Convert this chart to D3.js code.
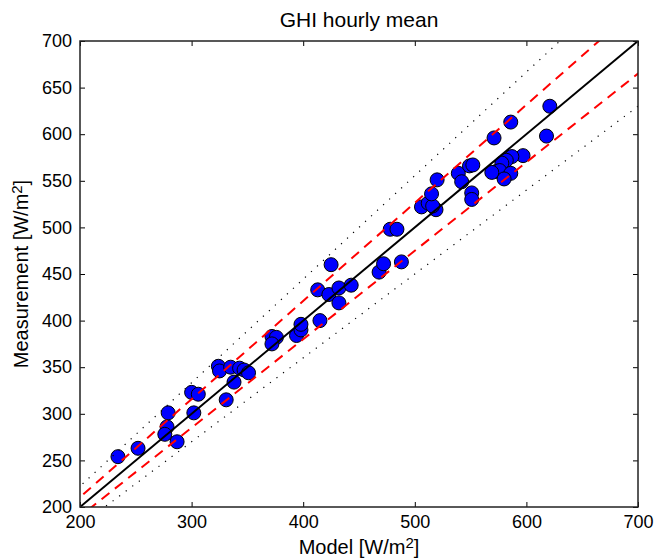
<!DOCTYPE html>
<html>
<head>
<meta charset="utf-8">
<script src="https://cdn.jsdelivr.net/npm/d3@7"></script>
<style>
    body { margin: 0; background: #fff; }
    svg { display: block; font-family: "Liberation Sans", Arial, sans-serif; }
</style>
</head>
<body>
<svg id="drawing_region"></svg>
<script>
const model_values = [
    234, 252, 279, 278, 276, 287, 300, 306, 302, 331, 338,
    324, 325, 335, 343, 347, 351,
    372, 376, 372, 394, 398, 398, 415, 413, 423, 432, 443, 432, 425,
    468, 472, 488, 478, 484, 506, 512, 519, 516, 515, 520,
    539, 542, 549, 551, 551, 552,
    571, 586, 621, 618, 597, 587, 582, 578, 573, 576, 586, 580, 569
];
const measured_values = [
    254, 263, 301, 286, 278, 270, 323, 321, 301, 315, 334,
    351, 346, 350, 349, 347, 344,
    383, 382, 375, 384, 390, 396, 400, 433, 428, 435, 438, 419, 460,
    452, 461, 463, 498, 498, 522, 526, 519, 523, 536, 551,
    558, 549, 566, 537, 530, 567,
    596, 613, 630, 598, 577, 576, 572, 569, 560, 561, 558, 552, 559
];

const x_ticks = [200, 300, 400, 500, 600, 700];
const y_ticks = [200, 250, 300, 350, 400, 450, 500, 550, 600, 650, 700];

// reference lines y = k * x
const line_ratios = [1 / 0.9, 0.9, 1 / 0.95, 0.95, 1];
const line_kinds  = ['dot', 'dot', 'dash', 'dash', 'solid'];

const data = model_values.map((d, i) => ({ model: d, measured: measured_values[i] }));

var config = {
    parent: '#drawing_region',
    width: 655,
    height: 558,
    margin: {top: 41, right: 17, bottom: 51, left: 80},
    title: 'GHI hourly mean',
};

class ScatterPlot {

    constructor( config, data ) {
        this.config = config;
        this.data = data;
        this.init();
    }

    init() {
        let self = this;

        self.svg = d3.select( self.config.parent )
            .attr('width', self.config.width)
            .attr('height', self.config.height);

        self.inner_width = self.config.width - self.config.margin.left - self.config.margin.right;
        self.inner_height = self.config.height - self.config.margin.top - self.config.margin.bottom;

        self.chart = self.svg.append('g')
            .attr('transform', `translate(${self.config.margin.left}, ${self.config.margin.top})`);

        self.xscale = d3.scaleLinear()
            .domain([200, 700])
            .range([0, self.inner_width]);

        self.yscale = d3.scaleLinear()
            .domain([200, 700])
            .range([self.inner_height, 0]);

        self.svg.append('defs').append('clipPath')
            .attr('id', 'plot_clip')
            .append('rect')
            .attr('width', self.inner_width)
            .attr('height', self.inner_height);

        self.points_group = self.chart.append('g')
            .attr('clip-path', 'url(#plot_clip)');
        self.lines_group = self.chart.append('g')
            .attr('clip-path', 'url(#plot_clip)');

        self.svg.append('text')
            .attr('x', self.config.margin.left + self.inner_width / 2)
            .attr('y', 27)
            .attr('text-anchor', 'middle')
            .style('font-size', '21px')
            .text(self.config.title);
    }

    update() {
        let self = this;
        self.render();
    }

    render() {
        let self = this;

        self.points_group.selectAll('circle')
            .data(self.data)
            .join('circle')
            .attr('cx', d => self.xscale(d.model))
            .attr('cy', d => self.yscale(d.measured))
            .attr('r', 7)
            .attr('fill', '#0000ff')
            .attr('stroke', '#000')
            .attr('stroke-width', 1);

        const styles = {
            solid: {color: '#000', width: 2, dash: null},
            dash:  {color: '#ff0000', width: 2, dash: '10,7'},
            dot:   {color: '#000', width: 1.2, dash: '1.2,7'},
        };
        const line = d3.line()
            .x(d => self.xscale(d[0]))
            .y(d => self.yscale(d[1]));

        self.lines_group.selectAll('path')
            .data(line_ratios.map((k, i) => ({k: k, kind: line_kinds[i]})))
            .join('path')
            .attr('d', d => line([[100, 100 * d.k], [800, 800 * d.k]]))
            .attr('fill', 'none')
            .attr('stroke', d => styles[d.kind].color)
            .attr('stroke-width', d => styles[d.kind].width)
            .attr('stroke-dasharray', d => styles[d.kind].dash);

        // axes, ticks inside on all four sides
        const tick_size = 5;
        self.chart.append('g')
            .attr('transform', `translate(0, ${self.inner_height})`)
            .call(d3.axisBottom(self.xscale).tickValues(x_ticks).tickSizeInner(-tick_size).tickSizeOuter(0).tickPadding(8));
        self.chart.append('g')
            .call(d3.axisTop(self.xscale).tickValues(x_ticks).tickSizeInner(-tick_size).tickSizeOuter(0).tickFormat(''));
        self.chart.append('g')
            .call(d3.axisLeft(self.yscale).tickValues(y_ticks).tickSizeInner(-tick_size).tickSizeOuter(0).tickPadding(8));
        self.chart.append('g')
            .attr('transform', `translate(${self.inner_width}, 0)`)
            .call(d3.axisRight(self.yscale).tickValues(y_ticks).tickSizeInner(-tick_size).tickSizeOuter(0).tickFormat(''));

        self.chart.selectAll('.domain').remove();
        self.chart.selectAll('.tick line').attr('stroke', '#000');
        self.chart.selectAll('.tick text')
            .style('font-size', '18px')
            .style('font-family', '"Liberation Sans", Arial, sans-serif')
            .attr('fill', '#000');

        self.chart.append('rect')
            .attr('width', self.inner_width)
            .attr('height', self.inner_height)
            .attr('fill', 'none')
            .attr('stroke', '#222')
            .attr('stroke-width', 1.5);

        const xlabel = self.svg.append('text')
            .attr('x', self.config.margin.left + self.inner_width / 2)
            .attr('y', 554)
            .attr('text-anchor', 'middle')
            .style('font-size', '20px');
        xlabel.append('tspan').text('Model [W/m');
        xlabel.append('tspan').attr('dy', -6).style('font-size', '15px').text('2');
        xlabel.append('tspan').attr('dy', 6).text(']');

        const ylabel = self.svg.append('text')
            .attr('transform', `translate(28, ${self.config.margin.top + self.inner_height / 2}) rotate(-90)`)
            .attr('text-anchor', 'middle')
            .style('font-size', '20px');
        ylabel.append('tspan').text('Measurement [W/m');
        ylabel.append('tspan').attr('dy', -6).style('font-size', '15px').text('2');
        ylabel.append('tspan').attr('dy', 6).text(']');
    }
}

const scatter_plot = new ScatterPlot( config, data );
scatter_plot.update();
</script>
</body>
</html>
